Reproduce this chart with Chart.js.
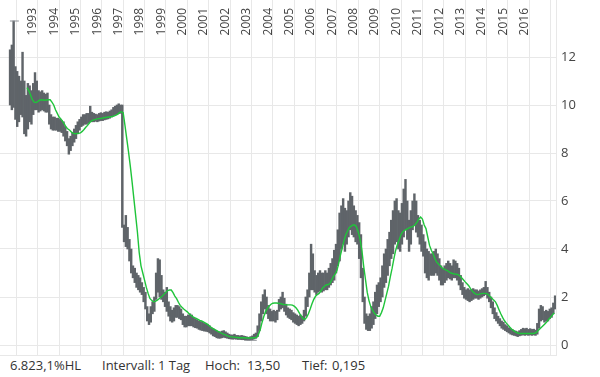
<!DOCTYPE html>
<html>
<head>
<meta charset="utf-8">
<script src="https://cdn.jsdelivr.net/npm/chart.js@4.4.1/dist/chart.umd.min.js"></script>
<style>
  html, body { margin: 0; padding: 0; background: #fff; }
  #wrap { position: relative; width: 600px; height: 356px; }
  #foot { position: absolute; top: 356px; left: 0; width: 600px; height: 21px;
          font: 13px "Open Sans", sans-serif; line-height: 18px; color: #333; }
  #foot span { position: absolute; top: 0; white-space: nowrap; }
</style>
</head>
<body>
<div id="wrap"><canvas id="chart"></canvas></div>
<div id="foot">
  <span style="left:10px">6.823,1%HL</span>
  <span style="left:102px">Intervall: 1 Tag</span>
  <span style="left:205px">Hoch:</span>
  <span style="left:247px">13,50</span>
  <span style="left:302px">Tief:</span>
  <span style="left:332px">0,195</span>
</div>
<script>
// Monthly high/low ranges, starting March 1992.
const barStart = 1992 + 2 / 12;
const lows = [
  10.0, 9.8, 9.9, 9.4, 9.1, 9.3, 9.6, 9.5, 8.8, 8.7,                      // 1992 (Mar-Dec)
  9.0, 9.3, 9.2, 9.6, 9.8, 9.8, 9.7, 9.75, 9.8, 9.75, 9.7, 9.7,             // 1993
  9.2, 9.0, 8.95, 8.95, 8.95, 8.9, 8.9, 8.85, 8.7, 8.5, 8.3, 7.95,          // 1994
  8.1, 8.3, 8.45, 8.6, 8.8, 8.95, 9.1, 9.15, 9.2, 9.2, 9.25, 9.3,           // 1995
  9.3, 9.3, 9.32, 9.3, 9.33, 9.35, 9.35, 9.38, 9.4, 9.42, 9.45, 9.5,        // 1996
  9.55, 9.6, 9.6, 9.65, 9.65, 4.9, 4.3, 4.1, 4.0, 3.5, 3.0, 2.8,            // 1997
  2.6, 2.4, 2.3, 2.2, 2.1, 1.8, 1.5, 1.0, 0.85, 0.95, 1.3, 1.4,             // 1998
  1.9, 2.2, 2.0, 1.9, 1.8, 1.6, 1.4, 1.2, 1.0, 0.95, 1.0, 1.15,             // 1999
  1.15, 1.1, 1.05, 0.85, 0.75, 0.75, 0.8, 0.8, 0.8, 0.75, 0.72, 0.7,        // 2000
  0.65, 0.62, 0.6, 0.58, 0.57, 0.55, 0.5, 0.45, 0.38, 0.35, 0.3, 0.28,      // 2001
  0.28, 0.3, 0.32, 0.3, 0.28, 0.26, 0.25, 0.24, 0.25, 0.24, 0.23, 0.23,     // 2002
  0.22, 0.22, 0.2, 0.2, 0.195, 0.2, 0.22, 0.25, 0.28, 0.35, 0.6, 1.0,       // 2003
  1.3, 1.5, 1.3, 1.1, 1.0, 1.0, 1.0, 0.95, 1.05, 1.4, 1.5, 1.55,            // 2004
  1.4, 1.25, 1.15, 1.1, 1.05, 0.95, 0.9, 0.85, 0.8, 0.85, 0.9, 1.0,         // 2005
  1.2, 1.6, 2.0, 2.3, 2.3, 2.2, 2.1, 2.2, 2.25, 2.2, 2.25, 2.3,             // 2006
  2.3, 2.4, 2.5, 2.6, 2.7, 3.0, 3.3, 3.5, 4.0, 4.2, 3.9, 4.2,               // 2007
  4.5, 4.8, 4.6, 4.5, 4.3, 4.2, 3.6, 2.8, 1.8, 0.9, 0.65, 0.6,              // 2008
  0.6, 0.7, 0.85, 1.1, 1.3, 1.6, 1.8, 2.0, 2.4, 2.6, 2.9, 3.3,              // 2009
  3.6, 3.8, 4.2, 4.3, 4.0, 3.9, 4.2, 4.5, 4.8, 4.4, 3.9, 4.2,               // 2010
  4.8, 5.0, 4.7, 4.5, 4.2, 3.9, 3.7, 3.0, 2.8, 2.7, 2.9, 2.9,               // 2011
  2.9, 3.0, 2.9, 2.7, 2.5, 2.5, 2.6, 2.7, 2.8, 2.75, 2.7, 2.8,              // 2012
  2.8, 2.7, 2.5, 2.3, 2.1, 1.95, 1.9, 1.85, 1.8, 1.85, 1.9, 1.95,           // 2013
  1.95, 1.9, 1.95, 2.0, 2.05, 2.1, 1.95, 1.8, 1.55, 1.3, 1.1, 1.0,          // 2014
  0.9, 0.8, 0.7, 0.65, 0.6, 0.55, 0.5, 0.45, 0.42, 0.4, 0.38, 0.35,         // 2015
  0.38, 0.4, 0.42, 0.4, 0.42, 0.4, 0.42, 0.4, 0.42, 0.4, 0.45, 0.7,         // 2016
  1.0, 1.05, 0.95, 1.0, 1.0, 1.1, 1.15, 1.3, 1.5                            // 2017 (Jan-Sep)
];
const highs = [
  12.3, 12.5, 13.5, 11.6, 11.4, 11.2, 11.0, 12.2, 11.0, 10.4,               // 1992
  10.9, 10.8, 10.6, 10.9, 11.35, 11.0, 10.6, 10.55, 10.6, 10.5, 10.45, 10.5, // 1993
  10.0, 9.6, 9.5, 9.5, 9.45, 9.45, 9.4, 9.35, 9.3, 9.1, 8.9, 8.6,           // 1994
  8.7, 8.85, 9.0, 9.15, 9.3, 9.4, 9.5, 9.6, 9.6, 9.65, 9.65, 9.95,          // 1995
  9.7, 9.65, 9.62, 9.6, 9.65, 9.68, 9.65, 9.7, 9.72, 9.7, 9.75, 9.8,        // 1996
  9.9, 9.95, 10.0, 10.05, 10.0, 10.0, 5.0, 5.4, 4.9, 4.4, 4.0, 3.3,         // 1997
  3.2, 3.0, 2.9, 2.8, 2.6, 2.4, 2.2, 1.6, 1.3, 1.6, 1.8, 2.0,               // 1998
  3.0, 3.6, 3.55, 2.9, 2.3, 2.2, 2.4, 1.8, 1.6, 1.45, 1.55, 1.65,           // 1999
  1.65, 1.6, 1.5, 1.3, 1.2, 1.2, 1.25, 1.3, 1.25, 1.15, 1.1, 1.05,          // 2000
  1.0, 0.98, 0.95, 0.9, 0.88, 0.85, 0.8, 0.72, 0.68, 0.62, 0.58, 0.55,      // 2001
  0.55, 0.58, 0.6, 0.55, 0.5, 0.45, 0.42, 0.42, 0.45, 0.4, 0.4, 0.38,       // 2002
  0.4, 0.38, 0.36, 0.34, 0.32, 0.35, 0.38, 0.45, 0.5, 0.8, 1.3, 1.8,        // 2003
  2.1, 2.3, 2.0, 1.65, 1.5, 1.4, 1.45, 1.4, 1.45, 1.9, 2.0, 2.2,            // 2004
  1.95, 1.7, 1.55, 1.5, 1.45, 1.35, 1.3, 1.25, 1.2, 1.25, 1.2, 1.45,        // 2005
  2.0, 2.3, 3.0, 4.2, 3.8, 3.1, 2.9, 3.0, 3.1, 3.0, 3.0, 3.1,               // 2006
  3.0, 3.2, 3.4, 3.6, 3.95, 4.2, 4.8, 5.5, 5.8, 6.1, 5.7, 5.6,              // 2007
  6.0, 6.35, 6.2, 5.8, 5.6, 5.4, 5.1, 4.6, 3.2, 2.0, 1.3, 1.2,              // 2008
  1.3, 1.6, 1.8, 2.2, 2.5, 2.6, 2.8, 3.3, 3.8, 4.0, 4.4, 4.7,               // 2009
  5.2, 5.6, 6.0, 6.1, 5.6, 5.5, 5.9, 6.5, 6.9, 6.0, 5.2, 5.6,               // 2010
  6.0, 6.3, 6.0, 5.4, 5.2, 5.0, 4.6, 4.3, 4.0, 3.9, 3.8, 3.8,               // 2011
  3.9, 4.0, 3.8, 3.6, 3.3, 3.2, 3.3, 3.4, 3.5, 3.4, 3.3, 3.55,              // 2012
  3.5, 3.4, 3.2, 2.9, 2.6, 2.4, 2.3, 2.35, 2.3, 2.3, 2.35, 2.3,             // 2013
  2.3, 2.25, 2.3, 2.35, 2.4, 2.65, 2.4, 2.2, 2.0, 1.8, 1.55, 1.35,          // 2014
  1.2, 1.1, 1.0, 0.95, 0.85, 0.8, 0.72, 0.68, 0.65, 0.6, 0.58, 0.55,        // 2015
  0.6, 0.65, 0.7, 0.68, 0.7, 0.65, 0.68, 0.65, 0.66, 0.62, 0.9, 1.5,        // 2016
  1.65, 1.6, 1.4, 1.45, 1.4, 1.5, 1.55, 1.75, 2.05                          // 2017
];

// Green moving average, monthly from January 1993.
const avgStart = 1993;
const avgLine = [
  10.72, 10.6, 10.42, 10.22, 10.12, 10.1, 10.14, 10.2, 10.22, 10.21, 10.2, 10.21,
  10.22, 10.22, 10.12, 10.0, 9.8, 9.65, 9.5, 9.42, 9.32, 9.2, 9.07, 9.0,
  8.95, 8.87, 8.82, 8.8, 8.81, 8.82, 8.84, 8.9, 8.98, 9.07, 9.15, 9.25,
  9.33, 9.37, 9.39, 9.41, 9.43, 9.44, 9.45, 9.47, 9.48, 9.49, 9.5, 9.51,
  9.52, 9.55, 9.58, 9.62, 9.68, 9.72, 9.68, 9.15, 8.6, 8.05, 7.45, 6.8,
  6.1, 5.4, 4.7, 3.85, 3.3, 3.0, 2.7, 2.4, 2.15, 1.94, 1.86, 1.8,
  1.82, 1.86, 1.92, 1.98, 2.04, 2.12, 2.2, 2.27, 2.29, 2.29, 2.18, 2.04,
  1.93, 1.78, 1.65, 1.57, 1.5, 1.44, 1.38, 1.3, 1.24, 1.18, 1.14, 1.11,
  1.07, 1.03, 1.0, 0.96, 0.92, 0.88, 0.82, 0.76, 0.7, 0.66, 0.62, 0.58,
  0.54, 0.5, 0.46, 0.43, 0.4, 0.37, 0.35, 0.34, 0.33, 0.32, 0.31, 0.3,
  0.3, 0.3, 0.3, 0.29, 0.29, 0.29, 0.29, 0.3, 0.3, 0.32, 0.45, 0.65,
  0.95, 1.2, 1.4, 1.53, 1.63, 1.7, 1.74, 1.75, 1.75, 1.74, 1.73, 1.71,
  1.69, 1.68, 1.67, 1.67, 1.67, 1.66, 1.62, 1.55, 1.45, 1.32, 1.2, 1.1,
  1.07, 1.15, 1.3, 1.5, 1.72, 1.9, 2.03, 2.1, 2.15, 2.25, 2.38, 2.45,
  2.5, 2.52, 2.55, 2.7, 2.85, 2.95, 3.1, 3.4, 3.75, 4.05, 4.35, 4.6,
  4.75, 4.9, 4.95, 5.0, 5.0, 4.92, 4.7, 4.4, 3.95, 3.3, 2.75, 2.2,
  1.85, 1.6, 1.45, 1.33, 1.25, 1.2, 1.2, 1.35, 1.55, 1.85, 2.15, 2.45,
  2.85, 3.2, 3.6, 3.95, 4.2, 4.4, 4.6, 4.72, 4.78, 4.82, 4.86, 4.9,
  4.92, 4.95, 5.02, 5.12, 5.25, 5.33, 5.25, 5.0, 4.85, 4.5, 4.15, 3.95,
  3.8, 3.6, 3.45, 3.38, 3.3, 3.22, 3.17, 3.13, 3.1, 3.05, 3.0, 2.98,
  2.96, 2.95, 2.93, 2.88, 2.8, 2.72, 2.63, 2.55, 2.47, 2.35, 2.25, 2.17,
  2.12, 2.1, 2.12, 2.14, 2.15, 2.15, 2.14, 2.1, 2.02, 1.95, 1.87, 1.8,
  1.65, 1.47, 1.3, 1.15, 1.02, 0.92, 0.84, 0.75, 0.67, 0.61, 0.56, 0.52,
  0.49, 0.48, 0.48, 0.48, 0.48, 0.48, 0.48, 0.48, 0.48, 0.49, 0.52, 0.6,
  0.68, 0.75, 0.82, 0.9, 0.98, 1.07, 1.16, 1.25, 1.34
];

// Little caps marking the period high (13,50) and low (0,195).
const hochMark = { from: 1992.2, to: 1992.62, value: 13.5 };
const tiefMark = { from: 2003.28, to: 2003.75, value: 0.195 };

const gridYears = [1993, 1994, 1995, 1996, 1997, 1998, 1999, 2000, 2001, 2002, 2003, 2004, 2005,
                   2006, 2007, 2008, 2009, 2010, 2011, 2012, 2013, 2014, 2015, 2016, 2017];
const yearLabels = gridYears.slice(0, -1);   // 2017 has no label in the original
const yTicks = [0, 2, 4, 6, 8, 10, 12];

const GRID = "#e8e8e8";
const FONT = '"Open Sans", sans-serif';

// Year captions sit inside the plot, rotated, just right of each year's grid line.
const yearText = {
  id: "yearText",
  afterDraw(chart) {
    const { ctx, scales: { x } } = chart;
    ctx.save();
    ctx.font = "12px " + FONT;
    ctx.fillStyle = "#444";
    ctx.textAlign = "right";
    ctx.textBaseline = "alphabetic";
    yearLabels.forEach(yr => {
      ctx.save();
      ctx.translate(x.getPixelForValue(yr) + 9.5, 8);
      ctx.rotate(-Math.PI / 2);
      ctx.fillText(String(yr), 0, 0);
      ctx.restore();
    });
    ctx.restore();
  }
};

const bars = lows.map((lo, i) => ({ x: barStart + (i + 0.5) / 12, y: [lo, highs[i]] }));
const avgPts = avgLine.map((v, i) => ({ x: avgStart + i / 12, y: v }));
const mark = m => [{ x: m.from, y: m.value }, { x: m.to, y: m.value }];

new Chart(document.getElementById("chart"), {
  type: "bar",
  data: {
    datasets: [
      { type: "bar", data: bars, backgroundColor: "#5f6469", borderWidth: 0,
        barPercentage: 1, categoryPercentage: 1, order: 3 },
      { type: "line", data: avgPts, borderColor: "#1fc43a", borderWidth: 1.4,
        pointRadius: 0, tension: 0, order: 1 },
      { type: "line", data: mark(hochMark), borderColor: "#8d9196", borderWidth: 1,
        pointRadius: 0, order: 2 },
      { type: "line", data: mark(tiefMark), borderColor: "#8d9196", borderWidth: 1,
        pointRadius: 0, order: 2 },
    ],
  },
  options: {
    responsive: true, maintainAspectRatio: false, animation: false,
    layout: { padding: { top: 0, left: 0, right: 0, bottom: 1 } },
    plugins: { legend: { display: false }, tooltip: { enabled: false } },
    scales: {
      x: {
        type: "linear", min: 1991.737, max: 2017.75, offset: false,
        afterBuildTicks: s => { s.ticks = gridYears.map(v => ({ value: v })); },
        afterFit: s => { s.height = 0; s.paddingLeft = 0; s.paddingRight = 0; },
        ticks: { display: false },
        grid: { color: GRID, drawTicks: false },
        border: { display: true, color: GRID },
      },
      y: {
        position: "right", min: -10 / 24, max: 345 / 24,
        afterBuildTicks: s => { s.ticks = yTicks.map(v => ({ value: v })); },
        // fixed width, and no extra room reserved for half-labels at the ends
        afterFit: s => { s.width = 44; s.paddingTop = 0; s.paddingBottom = 0; },
        ticks: { padding: 5, color: "#444", font: { family: FONT, size: 13 } },
        grid: { color: GRID, drawTicks: false },
        border: { display: true, color: GRID },
      },
    },
  },
  plugins: [yearText],
});
</script>
</body>
</html>
